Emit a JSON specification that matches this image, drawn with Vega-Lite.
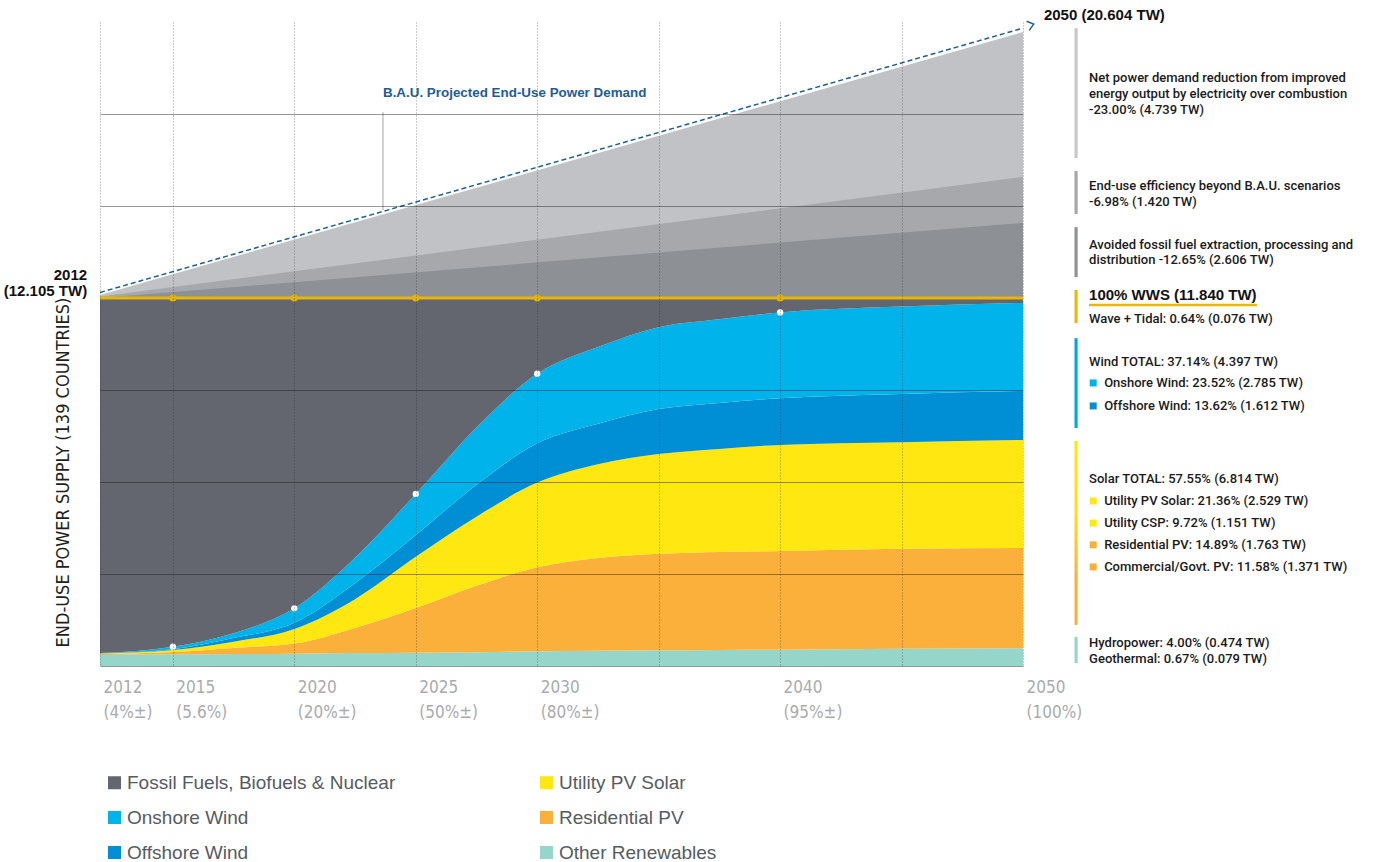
{
  "$schema": "https://vega.github.io/schema/vega-lite/v6.json",
  "width": 923,
  "height": 644,
  "autosize": {"type": "none"},
  "padding": {"left": 100, "top": 22, "right": 367, "bottom": 196},
  "background": "white",
  "config": {"view": {"stroke": null}, "font": "Liberation Sans"},
  "datasets": {
    "bands": [
      {"year": 2012, "lo": 12.0, "light": 12.1, "mid": 12.05, "dark": 12.0},
      {"year": 2050, "lo": 12.0, "light": 20.67, "mid": 15.95, "dark": 14.45}
    ],
    "energy": [
      {"year": 2012, "s": "Other Renewables", "k": 1, "v": 0.36},
      {"year": 2012, "s": "Residential PV", "k": 2, "v": 0.04},
      {"year": 2012, "s": "Utility PV Solar", "k": 3, "v": 0.01},
      {"year": 2012, "s": "Offshore Wind", "k": 4, "v": 0.005},
      {"year": 2012, "s": "Onshore Wind", "k": 5, "v": 0.005},
      {"year": 2012, "s": "Fossil Fuels, Biofuels & Nuclear", "k": 6, "v": 11.58},
      {"year": 2015, "s": "Other Renewables", "k": 1, "v": 0.38},
      {"year": 2015, "s": "Residential PV", "k": 2, "v": 0.08},
      {"year": 2015, "s": "Utility PV Solar", "k": 3, "v": 0.06},
      {"year": 2015, "s": "Offshore Wind", "k": 4, "v": 0.03},
      {"year": 2015, "s": "Onshore Wind", "k": 5, "v": 0.08},
      {"year": 2015, "s": "Fossil Fuels, Biofuels & Nuclear", "k": 6, "v": 11.37},
      {"year": 2017.5, "s": "Other Renewables", "k": 1, "v": 0.39},
      {"year": 2017.5, "s": "Residential PV", "k": 2, "v": 0.20},
      {"year": 2017.5, "s": "Utility PV Solar", "k": 3, "v": 0.20},
      {"year": 2017.5, "s": "Offshore Wind", "k": 4, "v": 0.12},
      {"year": 2017.5, "s": "Onshore Wind", "k": 5, "v": 0.16},
      {"year": 2017.5, "s": "Fossil Fuels, Biofuels & Nuclear", "k": 6, "v": 10.93},
      {"year": 2020, "s": "Other Renewables", "k": 1, "v": 0.40},
      {"year": 2020, "s": "Residential PV", "k": 2, "v": 0.33},
      {"year": 2020, "s": "Utility PV Solar", "k": 3, "v": 0.48},
      {"year": 2020, "s": "Offshore Wind", "k": 4, "v": 0.20},
      {"year": 2020, "s": "Onshore Wind", "k": 5, "v": 0.47},
      {"year": 2020, "s": "Fossil Fuels, Biofuels & Nuclear", "k": 6, "v": 10.12},
      {"year": 2022.5, "s": "Other Renewables", "k": 1, "v": 0.42},
      {"year": 2022.5, "s": "Residential PV", "k": 2, "v": 0.82},
      {"year": 2022.5, "s": "Utility PV Solar", "k": 3, "v": 0.94},
      {"year": 2022.5, "s": "Offshore Wind", "k": 4, "v": 0.52},
      {"year": 2022.5, "s": "Onshore Wind", "k": 5, "v": 0.83},
      {"year": 2022.5, "s": "Fossil Fuels, Biofuels & Nuclear", "k": 6, "v": 8.47},
      {"year": 2025, "s": "Other Renewables", "k": 1, "v": 0.43},
      {"year": 2025, "s": "Residential PV", "k": 2, "v": 1.46},
      {"year": 2025, "s": "Utility PV Solar", "k": 3, "v": 1.67},
      {"year": 2025, "s": "Offshore Wind", "k": 4, "v": 0.71},
      {"year": 2025, "s": "Onshore Wind", "k": 5, "v": 1.34},
      {"year": 2025, "s": "Fossil Fuels, Biofuels & Nuclear", "k": 6, "v": 6.39},
      {"year": 2027.5, "s": "Other Renewables", "k": 1, "v": 0.45},
      {"year": 2027.5, "s": "Residential PV", "k": 2, "v": 2.17},
      {"year": 2027.5, "s": "Utility PV Solar", "k": 3, "v": 2.25},
      {"year": 2027.5, "s": "Offshore Wind", "k": 4, "v": 1.04},
      {"year": 2027.5, "s": "Onshore Wind", "k": 5, "v": 1.87},
      {"year": 2027.5, "s": "Fossil Fuels, Biofuels & Nuclear", "k": 6, "v": 4.22},
      {"year": 2030, "s": "Other Renewables", "k": 1, "v": 0.48},
      {"year": 2030, "s": "Residential PV", "k": 2, "v": 2.74},
      {"year": 2030, "s": "Utility PV Solar", "k": 3, "v": 2.76},
      {"year": 2030, "s": "Offshore Wind", "k": 4, "v": 1.28},
      {"year": 2030, "s": "Onshore Wind", "k": 5, "v": 2.27},
      {"year": 2030, "s": "Fossil Fuels, Biofuels & Nuclear", "k": 6, "v": 2.47},
      {"year": 2032.5, "s": "Other Renewables", "k": 1, "v": 0.50},
      {"year": 2032.5, "s": "Residential PV", "k": 2, "v": 3.02},
      {"year": 2032.5, "s": "Utility PV Solar", "k": 3, "v": 3.06},
      {"year": 2032.5, "s": "Offshore Wind", "k": 4, "v": 1.32},
      {"year": 2032.5, "s": "Onshore Wind", "k": 5, "v": 2.50},
      {"year": 2032.5, "s": "Fossil Fuels, Biofuels & Nuclear", "k": 6, "v": 1.60},
      {"year": 2035, "s": "Other Renewables", "k": 1, "v": 0.51},
      {"year": 2035, "s": "Residential PV", "k": 2, "v": 3.15},
      {"year": 2035, "s": "Utility PV Solar", "k": 3, "v": 3.25},
      {"year": 2035, "s": "Offshore Wind", "k": 4, "v": 1.47},
      {"year": 2035, "s": "Onshore Wind", "k": 5, "v": 2.67},
      {"year": 2035, "s": "Fossil Fuels, Biofuels & Nuclear", "k": 6, "v": 0.95},
      {"year": 2037.5, "s": "Other Renewables", "k": 1, "v": 0.52},
      {"year": 2037.5, "s": "Residential PV", "k": 2, "v": 3.20},
      {"year": 2037.5, "s": "Utility PV Solar", "k": 3, "v": 3.36},
      {"year": 2037.5, "s": "Offshore Wind", "k": 4, "v": 1.50},
      {"year": 2037.5, "s": "Onshore Wind", "k": 5, "v": 2.73},
      {"year": 2037.5, "s": "Fossil Fuels, Biofuels & Nuclear", "k": 6, "v": 0.69},
      {"year": 2040, "s": "Other Renewables", "k": 1, "v": 0.53},
      {"year": 2040, "s": "Residential PV", "k": 2, "v": 3.22},
      {"year": 2040, "s": "Utility PV Solar", "k": 3, "v": 3.46},
      {"year": 2040, "s": "Offshore Wind", "k": 4, "v": 1.52},
      {"year": 2040, "s": "Onshore Wind", "k": 5, "v": 2.80},
      {"year": 2040, "s": "Fossil Fuels, Biofuels & Nuclear", "k": 6, "v": 0.47},
      {"year": 2045, "s": "Other Renewables", "k": 1, "v": 0.56},
      {"year": 2045, "s": "Residential PV", "k": 2, "v": 3.26},
      {"year": 2045, "s": "Utility PV Solar", "k": 3, "v": 3.48},
      {"year": 2045, "s": "Offshore Wind", "k": 4, "v": 1.57},
      {"year": 2045, "s": "Onshore Wind", "k": 5, "v": 2.85},
      {"year": 2045, "s": "Fossil Fuels, Biofuels & Nuclear", "k": 6, "v": 0.28},
      {"year": 2050, "s": "Other Renewables", "k": 1, "v": 0.58},
      {"year": 2050, "s": "Residential PV", "k": 2, "v": 3.27},
      {"year": 2050, "s": "Utility PV Solar", "k": 3, "v": 3.52},
      {"year": 2050, "s": "Offshore Wind", "k": 4, "v": 1.60},
      {"year": 2050, "s": "Onshore Wind", "k": 5, "v": 2.87},
      {"year": 2050, "s": "Fossil Fuels, Biofuels & Nuclear", "k": 6, "v": 0.16}
    ],
    "windDots": [
      {"year": 2015, "v": 0.63},
      {"year": 2020, "v": 1.88},
      {"year": 2025, "v": 5.61},
      {"year": 2030, "v": 9.53},
      {"year": 2040, "v": 11.53}
    ],
    "wwsDots": [
      {"year": 2015, "v": 12.0},
      {"year": 2020, "v": 12.0},
      {"year": 2025, "v": 12.0},
      {"year": 2030, "v": 12.0},
      {"year": 2040, "v": 12.0}
    ],
    "bau": [
      {"year": 2012, "v": 12.18},
      {"year": 2050, "v": 20.80}
    ],
    "notes": [
      {"x": 2052.72, "y": 19.17, "t": "Net power demand reduction from improved"},
      {"x": 2052.72, "y": 18.65, "t": "energy output by electricity over combustion"},
      {"x": 2052.72, "y": 18.13, "t": "-23.00% (4.739 TW)"},
      {"x": 2052.72, "y": 15.65, "t": "End-use efficiency beyond B.A.U. scenarios"},
      {"x": 2052.72, "y": 15.13, "t": "-6.98% (1.420 TW)"},
      {"x": 2052.72, "y": 13.73, "t": "Avoided fossil fuel extraction, processing and"},
      {"x": 2052.72, "y": 13.24, "t": "distribution -12.65% (2.606 TW)"},
      {"x": 2052.72, "y": 11.31, "t": "Wave + Tidal: 0.64% (0.076 TW)"},
      {"x": 2052.72, "y": 9.91, "t": "Wind TOTAL: 37.14% (4.397 TW)"},
      {"x": 2053.34, "y": 9.23, "t": "Onshore Wind: 23.52% (2.785 TW)"},
      {"x": 2053.34, "y": 8.48, "t": "Offshore Wind: 13.62% (1.612 TW)"},
      {"x": 2052.72, "y": 6.10, "t": "Solar TOTAL: 57.55% (6.814 TW)"},
      {"x": 2053.34, "y": 5.38, "t": "Utility PV Solar: 21.36% (2.529 TW)"},
      {"x": 2053.34, "y": 4.66, "t": "Utility CSP: 9.72% (1.151 TW)"},
      {"x": 2053.34, "y": 3.95, "t": "Residential PV: 14.89% (1.763 TW)"},
      {"x": 2053.34, "y": 3.23, "t": "Commercial/Govt. PV: 11.58% (1.371 TW)"},
      {"x": 2052.72, "y": 0.75, "t": "Hydropower: 4.00% (0.474 TW)"},
      {"x": 2052.72, "y": 0.23, "t": "Geothermal: 0.67% (0.079 TW)"}
    ],
    "squares": [
      {"x": 2052.89, "y": 9.23, "s": "Onshore Wind"},
      {"x": 2052.89, "y": 8.48, "s": "Offshore Wind"},
      {"x": 2052.89, "y": 5.38, "s": "Utility PV Solar"},
      {"x": 2052.89, "y": 4.66, "s": "Utility PV Solar"},
      {"x": 2052.89, "y": 3.95, "s": "Residential PV"},
      {"x": 2052.89, "y": 3.23, "s": "Residential PV"}
    ],
    "boldLeft": [
      {"x": 2050.86, "y": 21.23, "t": "2050 (20.604 TW)"},
      {"x": 2052.72, "y": 12.10, "t": "100% WWS (11.840 TW)"}
    ],
    "boldRight": [
      {"x": 2011.47, "y": 12.75, "t": "2012"},
      {"x": 2011.47, "y": 12.23, "t": "(12.105 TW)"}
    ],
    "bars": [
      {"b": "demand", "x": 2052.12, "x2": 2052.25, "y": 20.80, "y2": 16.56},
      {"b": "eff", "x": 2052.12, "x2": 2052.25, "y": 16.14, "y2": 14.74},
      {"b": "avoided", "x": 2052.12, "x2": 2052.25, "y": 14.31, "y2": 12.68},
      {"b": "wws", "x": 2052.12, "x2": 2052.25, "y": 12.26, "y2": 11.18},
      {"b": "wind", "x": 2052.12, "x2": 2052.25, "y": 10.69, "y2": 7.76},
      {"b": "solar", "x": 2052.12, "x2": 2052.25, "y": 7.34, "y2": 1.34},
      {"b": "hydro", "x": 2052.12, "x2": 2052.25, "y": 0.95, "y2": 0.10}
    ]
  },
  "layer": [
    {
      "data": {"name": "bands"},
      "mark": {"type": "area", "color": "#c1c2c6"},
      "encoding": {
        "x": {
          "field": "year", "type": "quantitative",
          "scale": {"domain": [2012, 2050], "nice": false, "zero": false},
          "axis": {
            "title": null,
            "values": [2012, 2015, 2020, 2025, 2030, 2035, 2040, 2045, 2050],
            "grid": true, "gridColor": "#1a1a1a", "gridOpacity": 0.45, "gridDash": [1, 2], "gridWidth": 1,
            "domain": false, "ticks": false,
            "labelExpr": "datum.value == 2012 ? ['2012','(4%±)'] : datum.value == 2015 ? ['2015','(5.6%)'] : datum.value == 2020 ? ['2020','(20%±)'] : datum.value == 2025 ? ['2025','(50%±)'] : datum.value == 2030 ? ['2030','(80%±)'] : datum.value == 2040 ? ['2040','(95%±)'] : datum.value == 2050 ? ['2050','(100%)'] : ''",
            "labelAlign": "left", "labelBaseline": "top", "labelPadding": 13, "labelOffset": 3,
            "labelFontSize": 17, "labelLineHeight": 25, "labelColor": "#a9abae",
            "labelFont": "DejaVu Sans Condensed, Liberation Sans Narrow, sans-serif",
            "labelOverlap": false, "labelFlush": false, "labelBound": false,
            "zindex": 1
          }
        },
        "y": {
          "field": "light", "type": "quantitative",
          "scale": {"domain": [0, 21], "nice": false, "zero": true},
          "axis": {
            "title": "END-USE POWER SUPPLY (139 COUNTRIES)",
            "values": [0, 3, 6, 9, 15, 18],
            "grid": true, "gridColor": "#1a1a1a", "gridOpacity": 0.45, "gridWidth": 1,
            "domain": false, "ticks": false, "labels": false,
            "titleFont": "DejaVu Sans Condensed, Liberation Sans Narrow, sans-serif",
            "titleFontSize": 18, "titleFontWeight": "normal", "titleColor": "#231f20",
            "titleAngle": -90, "titleX": -37, "titleY": 450, "titleAlign": "center", "titleBaseline": "middle",
            "zindex": 1
          }
        },
        "y2": {"field": "lo"}
      }
    },
    {
      "data": {"name": "bands"},
      "mark": {"type": "area", "color": "#a6a8ac"},
      "encoding": {
        "x": {"field": "year", "type": "quantitative"},
        "y": {"field": "mid", "type": "quantitative"},
        "y2": {"field": "lo"}
      }
    },
    {
      "data": {"name": "bands"},
      "mark": {"type": "area", "color": "#8d9095"},
      "encoding": {
        "x": {"field": "year", "type": "quantitative"},
        "y": {"field": "dark", "type": "quantitative"},
        "y2": {"field": "lo"}
      }
    },
    {
      "data": {"name": "energy"},
      "mark": {"type": "area", "interpolate": "monotone", "opacity": 1},
      "encoding": {
        "x": {"field": "year", "type": "quantitative"},
        "y": {"field": "v", "type": "quantitative", "stack": "zero"},
        "order": {"field": "k", "type": "quantitative"},
        "color": {
          "field": "s", "type": "nominal",
          "scale": {
            "domain": ["Fossil Fuels, Biofuels & Nuclear", "Onshore Wind", "Offshore Wind", "Utility PV Solar", "Residential PV", "Other Renewables"],
            "range": ["#63666e", "#00b3ea", "#008fd4", "#ffe712", "#fbb03b", "#96d5c9"]
          },
          "legend": {
            "values": ["Fossil Fuels, Biofuels & Nuclear", "Onshore Wind", "Offshore Wind", "Utility PV Solar", "Residential PV", "Other Renewables"],
            "columns": 2, "orient": "none", "legendX": 5, "legendY": 751, "title": null,
            "symbolType": "square", "symbolSize": 169, "symbolStrokeWidth": 0, "symbolOpacity": 1,
            "labelFont": "Liberation Sans", "labelFontSize": 19, "labelColor": "#555b63", "labelLimit": 400,
            "rowPadding": 15, "columnPadding": 141, "labelOffset": 3, "padding": 0
          }
        }
      }
    },
    {
      "data": {"values": [{"x": 2012, "x2": 2050, "v": 12.0}]},
      "mark": {"type": "rule", "color": "#e6b60f", "strokeWidth": 3},
      "encoding": {
        "x": {"field": "x", "type": "quantitative"},
        "x2": {"field": "x2"},
        "y": {"field": "v", "type": "quantitative"}
      }
    },
    {
      "data": {"name": "wwsDots"},
      "mark": {"type": "point", "filled": true, "color": "#e2b30c", "size": 50, "opacity": 1},
      "encoding": {
        "x": {"field": "year", "type": "quantitative"},
        "y": {"field": "v", "type": "quantitative"}
      }
    },
    {
      "data": {"name": "windDots"},
      "mark": {"type": "point", "filled": true, "color": "white", "size": 40, "opacity": 1},
      "encoding": {
        "x": {"field": "year", "type": "quantitative"},
        "y": {"field": "v", "type": "quantitative"}
      }
    },
    {
      "data": {"name": "bau"},
      "mark": {"type": "line", "color": "#1d5fa0", "strokeWidth": 1.5, "strokeDash": [5, 3]},
      "encoding": {
        "x": {"field": "year", "type": "quantitative"},
        "y": {"field": "v", "type": "quantitative"}
      }
    },
    {
      "data": {"values": [{"year": 2050.44, "v": 20.93}]},
      "mark": {"type": "point", "shape": "M-1,-0.8L0,0L-1,0.8", "filled": false, "color": "#1d5fa0", "strokeWidth": 1.5, "size": 144, "angle": -16, "opacity": 1},
      "encoding": {
        "x": {"field": "year", "type": "quantitative"},
        "y": {"field": "v", "type": "quantitative"}
      }
    },
    {
      "data": {"values": [{"year": 2023.65, "v": 18.06, "v2": 14.87}]},
      "mark": {"type": "rule", "color": "#a3a5a8", "strokeWidth": 1},
      "encoding": {
        "x": {"field": "year", "type": "quantitative"},
        "y": {"field": "v", "type": "quantitative"},
        "y2": {"field": "v2"}
      }
    },
    {
      "data": {"values": [{"year": 2023.65, "v": 18.68, "t": "B.A.U. Projected End-Use Power Demand"}]},
      "mark": {"type": "text", "align": "left", "baseline": "middle", "font": "Liberation Sans", "fontWeight": "bold", "fontSize": 13.4, "color": "#1d5c9b"},
      "encoding": {
        "x": {"field": "year", "type": "quantitative"},
        "y": {"field": "v", "type": "quantitative"},
        "text": {"field": "t"}
      }
    },
    {
      "data": {"name": "bars"},
      "transform": [{"filter": "datum.b == 'demand'"}],
      "mark": {"type": "rect", "color": "#c6c7ca"},
      "encoding": {"x": {"field": "x", "type": "quantitative"}, "x2": {"field": "x2"}, "y": {"field": "y", "type": "quantitative"}, "y2": {"field": "y2"}}
    },
    {
      "data": {"name": "bars"},
      "transform": [{"filter": "datum.b == 'eff'"}],
      "mark": {"type": "rect", "color": "#a5a7ab"},
      "encoding": {"x": {"field": "x", "type": "quantitative"}, "x2": {"field": "x2"}, "y": {"field": "y", "type": "quantitative"}, "y2": {"field": "y2"}}
    },
    {
      "data": {"name": "bars"},
      "transform": [{"filter": "datum.b == 'avoided'"}],
      "mark": {"type": "rect", "color": "#8e9196"},
      "encoding": {"x": {"field": "x", "type": "quantitative"}, "x2": {"field": "x2"}, "y": {"field": "y", "type": "quantitative"}, "y2": {"field": "y2"}}
    },
    {
      "data": {"name": "bars"},
      "transform": [{"filter": "datum.b == 'wws'"}],
      "mark": {"type": "rect", "color": "#e8b80c"},
      "encoding": {"x": {"field": "x", "type": "quantitative"}, "x2": {"field": "x2"}, "y": {"field": "y", "type": "quantitative"}, "y2": {"field": "y2"}}
    },
    {
      "data": {"name": "bars"},
      "transform": [{"filter": "datum.b == 'wind'"}],
      "mark": {"type": "rect", "color": "#00a8e2"},
      "encoding": {"x": {"field": "x", "type": "quantitative"}, "x2": {"field": "x2"}, "y": {"field": "y", "type": "quantitative"}, "y2": {"field": "y2"}}
    },
    {
      "data": {"name": "bars"},
      "transform": [{"filter": "datum.b == 'solar'"}],
      "mark": {"type": "rect", "color": {"gradient": "linear", "x1": 0, "y1": 0, "x2": 0, "y2": 1, "stops": [{"offset": 0, "color": "#ffe712"}, {"offset": 0.4, "color": "#ffdc22"}, {"offset": 0.75, "color": "#fbb03b"}, {"offset": 1, "color": "#fbb03b"}]}},
      "encoding": {"x": {"field": "x", "type": "quantitative"}, "x2": {"field": "x2"}, "y": {"field": "y", "type": "quantitative"}, "y2": {"field": "y2"}}
    },
    {
      "data": {"name": "bars"},
      "transform": [{"filter": "datum.b == 'hydro'"}],
      "mark": {"type": "rect", "color": "#96d5c9"},
      "encoding": {"x": {"field": "x", "type": "quantitative"}, "x2": {"field": "x2"}, "y": {"field": "y", "type": "quantitative"}, "y2": {"field": "y2"}}
    },
    {
      "data": {"values": [{"x": 2052.72, "x2": 2059.63, "y": 11.77}]},
      "mark": {"type": "rule", "color": "#e8b80c", "strokeWidth": 2.5},
      "encoding": {"x": {"field": "x", "type": "quantitative"}, "x2": {"field": "x2"}, "y": {"field": "y", "type": "quantitative"}}
    },
    {
      "data": {"name": "squares"},
      "mark": {"type": "point", "shape": "square", "filled": true, "size": 49, "opacity": 1},
      "encoding": {
        "x": {"field": "x", "type": "quantitative"},
        "y": {"field": "y", "type": "quantitative"},
        "color": {"field": "s", "type": "nominal"}
      }
    },
    {
      "data": {"name": "notes"},
      "mark": {"type": "text", "align": "left", "baseline": "middle", "font": "Roboto", "fontWeight": 500, "fontSize": 13, "color": "#1a1a1a"},
      "encoding": {
        "x": {"field": "x", "type": "quantitative"},
        "y": {"field": "y", "type": "quantitative"},
        "text": {"field": "t"}
      }
    },
    {
      "data": {"name": "boldLeft"},
      "mark": {"type": "text", "align": "left", "baseline": "middle", "font": "Liberation Sans", "fontWeight": "bold", "fontSize": 15, "color": "#111111"},
      "encoding": {
        "x": {"field": "x", "type": "quantitative"},
        "y": {"field": "y", "type": "quantitative"},
        "text": {"field": "t"}
      }
    },
    {
      "data": {"name": "boldRight"},
      "mark": {"type": "text", "align": "right", "baseline": "middle", "font": "Liberation Sans", "fontWeight": "bold", "fontSize": 15, "color": "#111111"},
      "encoding": {
        "x": {"field": "x", "type": "quantitative"},
        "y": {"field": "y", "type": "quantitative"},
        "text": {"field": "t"}
      }
    }
  ]
}
